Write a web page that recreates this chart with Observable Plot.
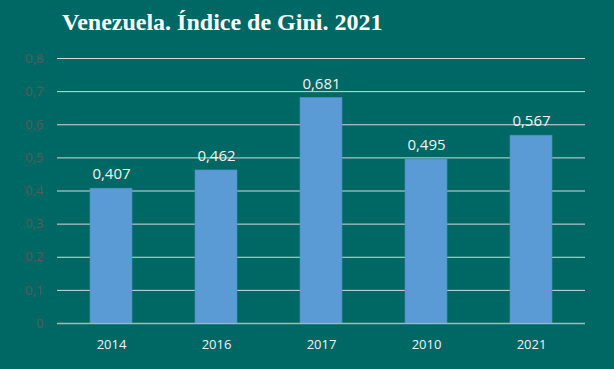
<!DOCTYPE html>
<html>
<head>
<meta charset="utf-8">
<script src="https://cdn.jsdelivr.net/npm/d3@7"></script>
<script src="https://cdn.jsdelivr.net/npm/@observablehq/plot@0.6"></script>
<style>
  html, body { margin: 0; padding: 0; background: #006864; }
  #wrap { width: 614px; height: 369px; background: #006864; overflow: hidden; }
  #title { height: 44px; box-sizing: border-box; padding-left: 62px; padding-top: 8px;
    font-family: "Liberation Serif", "Times New Roman", serif; font-weight: bold; font-size: 24px; color: #ffffff; line-height: 28px; }
  svg { display: block; }
</style>
</head>
<body>
<div id="wrap">
  <div id="title">Venezuela. Índice de Gini. 2021</div>
  <div id="chart"></div>
</div>
<script>
const years = ["2014", "2016", "2017", "2010", "2021"];
const gini = [0.407, 0.462, 0.681, 0.495, 0.567];
const giniLabels = ["0,407", "0,462", "0,681", "0,495", "0,567"];
const yTicks = [0, 0.1, 0.2, 0.3, 0.4, 0.5, 0.6, 0.7, 0.8];
const yTickLabels = ["0", "0,1", "0,2", "0,3", "0,4", "0,5", "0,6", "0,7", "0,8"];

const data = years.map((y, i) => ({year: y, value: gini[i], label: giniLabels[i]}));

const chart = Plot.plot({
  width: 614,
  height: 325,
  marginTop: 14,
  marginBottom: 46,
  marginLeft: 57,
  marginRight: 29,
  style: {background: "transparent", fontFamily: "'Open Sans', sans-serif", fontSize: "13px"},
  x: {domain: years, paddingInner: 0.6, paddingOuter: 0.3, label: null, tickSize: 0, tickPadding: 14},
  y: {domain: [0, 0.8], label: null, ticks: yTicks, tickFormat: (d) => yTickLabels[yTicks.indexOf(d)] ?? "", tickSize: 0, tickPadding: 14},
  marks: [
    Plot.gridY(yTicks, {stroke: "#d9d9d9", strokeOpacity: 1, strokeWidth: 1}),
    Plot.barY(data, {x: "year", y: "value", fill: "#5b9bd5", stroke: "#4f8cc4", strokeWidth: 0.6}),
    Plot.ruleY([0], {stroke: "#a6b7b5", strokeWidth: 1.5}),
    Plot.axisY({ticks: yTicks, tickFormat: (d) => yTickLabels[yTicks.indexOf(d)], tickSize: 0, tickPadding: 14, color: "#5a5a58", fontSize: 13, label: null}),
    Plot.axisX({tickSize: 0, tickPadding: 16, color: "#f2f2f2", fontSize: 13, label: null}),
    Plot.text(data, {x: "year", y: "value", text: "label", dy: -14, fill: "#f2f2f2", fontSize: 15})
  ]
});
document.getElementById("chart").appendChild(chart);
</script>
</body>
</html>
